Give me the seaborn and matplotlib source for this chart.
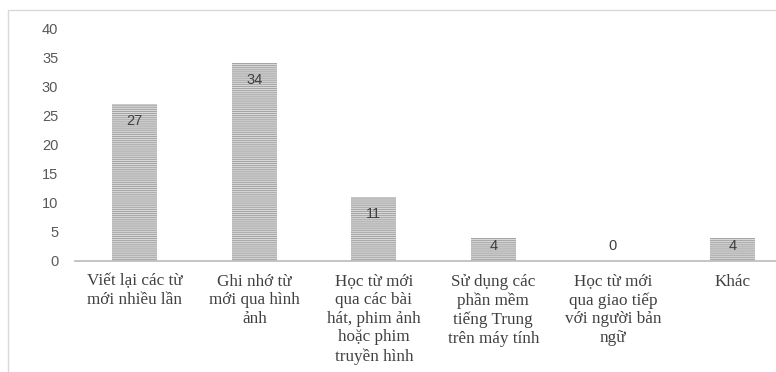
import numpy as np
import pandas as pd
import matplotlib.pyplot as plt
import seaborn as sns
from matplotlib.patches import Rectangle

# dữ liệu
categories = [
    "Viết lại các từ\nmới nhiều lần",
    "Ghi nhớ từ\nmới qua hình\nảnh",
    "Học từ mới\nqua các bài\nhát, phim ảnh\nhoặc phim\ntruyền hình",
    "Sử dụng các\nphần mềm\ntiếng Trung\ntrên máy tính",
    "Học từ mới\nqua giao tiếp\nvới người bản\nngữ",
    "Khác",
]
counts = [27, 34, 11, 4, 0, 4]
yticks = [0, 5, 10, 15, 20, 25, 30, 35, 40]

df = pd.DataFrame({"cat": categories, "n": counts})

sns.set_style("white")
plt.rcParams['font.family'] = ['Liberation Sans', 'DejaVu Sans']
plt.rcParams['hatch.linewidth'] = 0.7

fig = plt.figure(figsize=(7.76, 3.72), dpi=100)
# khung biểu đồ
fig.patches.append(Rectangle((8/776, -0.05), 1.0, 0.05 + (372-10)/372,
                             transform=fig.transFigure, fill=False,
                             edgecolor='#d9d9d9', linewidth=1.0))
ax = fig.add_axes([75/776, 111/372, 1 - 75/776, (261-28)/372])

sns.barplot(data=df, x="cat", y="n", color="#dadada", width=0.38,
            saturation=1, ax=ax)
for p in ax.patches:
    p.set_hatch('--------')
    p.set_edgecolor('#a3a3a3')
    p.set_linewidth(0)

# nhãn giá trị (trong đầu cột)
for i, v in enumerate(counts):
    ax.text(i, max(v - 2.95, 2.6), str(v), ha='center', va='center',
            fontsize=10.5, color='#404040')

ax.set_ylim(0, 40)
ax.set_xlim(-0.5, 5.366)
ax.set_yticks(yticks)
ax.set_xlabel("")
ax.set_ylabel("")
ax.tick_params(axis='y', length=0, pad=12, labelsize=10.5, labelcolor='#595959')
ax.tick_params(axis='x', length=0, pad=9, labelsize=12.3, labelcolor='#404040')
for lab in ax.get_xticklabels():
    lab.set_family(['Liberation Serif', 'DejaVu Serif'])
    lab.set_multialignment('center')
    lab.set_linespacing(1.22)
for s in ['top', 'right', 'left']:
    ax.spines[s].set_visible(False)
ax.spines['bottom'].set_color('#bfbfbf')
ax.spines['bottom'].set_linewidth(1.3)

fig.savefig("out.png", dpi=100)
